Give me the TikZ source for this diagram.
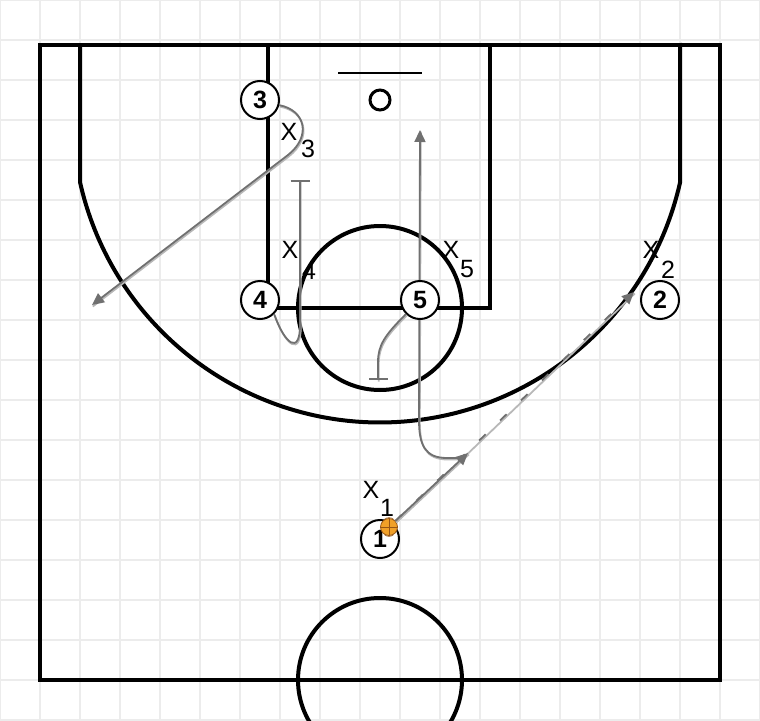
\documentclass[tikz,border=0pt]{standalone}
\usepackage{fontspec}
\setmainfont{Liberation Sans}
\usepackage{xcolor}
\usepackage{tikz}
\usetikzlibrary{arrows.meta,positioning}
\definecolor{gridgray}{RGB}{236,236,236}
\definecolor{movedark}{RGB}{112,112,112}
\definecolor{movelight}{RGB}{184,184,184}
\definecolor{ballorange}{RGB}{240,160,40}
\definecolor{ballseam}{RGB}{150,85,20}

\begin{document}
\begin{tikzpicture}[x=1pt, y=-1pt,
    court/.style={line width=4pt, line cap=rect},
    player/.style={circle, draw, line width=2pt, fill=white, minimum size=38pt, inner sep=0pt, font=\fontsize{25}{25}\selectfont\bfseries},
    defx/.style={inner sep=0pt, font=\fontsize{25}{25}\selectfont},
    move/.style={draw=movedark, line width=1.8pt, preaction={draw=movelight, line width=1.8pt, arrows=-, transform canvas={shift={(0.8pt,-1.5pt)}}}},
    tip/.style={-{Triangle[length=12pt, width=11pt]}},
    screen/.style={-{Bar[width=19pt, line width=1.6pt]}},
    pass/.style={move, dash pattern=on 9pt off 20pt}]
    \useasboundingbox (0,0) rectangle (760,720);

    % Grid
    \foreach \gx in {0,40,...,760}
      \draw[gridgray, line width=1.5pt] (\gx,0) -- (\gx,720);
    \foreach \gy in {0,40,...,720}
      \draw[gridgray, line width=1.5pt] (0,\gy) -- (760,\gy);

    % Court
    \draw[court] (40,45) rectangle (720,680);
    \draw[court] (268,45) rectangle (490,308);
    \draw[court] (80,45) -- (80,182) arc[start angle=192.6, end angle=347.4, radius=307.5pt] -- (680,45);
    \draw[court] (380,308) circle[radius=82pt];
    \draw[court] (380,680) circle[radius=82pt];
    \draw[line width=2.5pt] (338,73) -- (422,73);
    \draw[line width=3pt] (380,100) circle[radius=10pt];

    % Cut to the top
    \coordinate (cut5s) at (462,458);
    \coordinate (cut5) at (420,130);
    \draw[move, tip] (cut5s) -- (447,458) .. controls (425,458) and (419,445) .. (419,420) -- (cut5);

    % Players
    \node[player] (p3) at (260,100) {3};
    \node[player] (p4) at (260,300) {4};
    \node[player] (p5) at (420,300) {5};
    \node[player] (p2) at (660,300) {2};
    \node[player] (p1) at (380,539) {1};

    % Defenders
    \node[defx] (x3) at (289,132) {X};
    \node[defx] (x3n) at (308,149) {3};
    \node[defx] (x4) at (290,250) {X};
    \node[defx] (x4n) at (309,271) {4};
    \node[defx] (x5) at (451,250) {X};
    \node[defx] (x5n) at (467,269) {5};
    \node[defx] (x2) at (651,250) {X};
    \node[defx] (x2n) at (668,270) {2};
    \node[defx] (x1) at (371,490) {X};
    \node[defx] (x1n) at (387,508) {1};

    % Ball
    \node[circle, fill=ballorange, draw=ballseam, line width=0.8pt, minimum size=17pt, inner sep=0pt] (ball) at (389,527) {};
    \draw[ballseam, line width=0.7pt] (ball.west) -- (ball.east);
    \draw[ballseam, line width=0.7pt] (ball.north) -- (ball.south);
    \draw[ballseam, line width=0.6pt] (ball.60) to[bend right=40] (ball.120);
    \draw[ballseam, line width=0.6pt] (ball.-60) to[bend left=40] (ball.-120);

    % Cut of 3
    \coordinate (cut3) at (92,305);
    \draw[move, tip] (p3.-15) .. controls (305,110) and (312,136) .. (288,155) -- (cut3);

    % Screens
    \coordinate (scr4) at (300,180);
    \draw[move, screen] (p4.-45) .. controls (285,345) and (300,355) .. (300,325) -- (scr4);
    \coordinate (scr5) at (378,380);
    \draw[move, screen] (p5.-135) .. controls (385,335) and (378,345) .. (378,362) -- (scr5);

    % Pass and dribble
    \coordinate (pass2) at (634,292);
    \coordinate (drib1) at (468,453);
    \draw[pass, tip] (ball) -- (pass2);
    \draw[move, tip] (ball) -- (drib1);
  \end{tikzpicture}
\end{document}
